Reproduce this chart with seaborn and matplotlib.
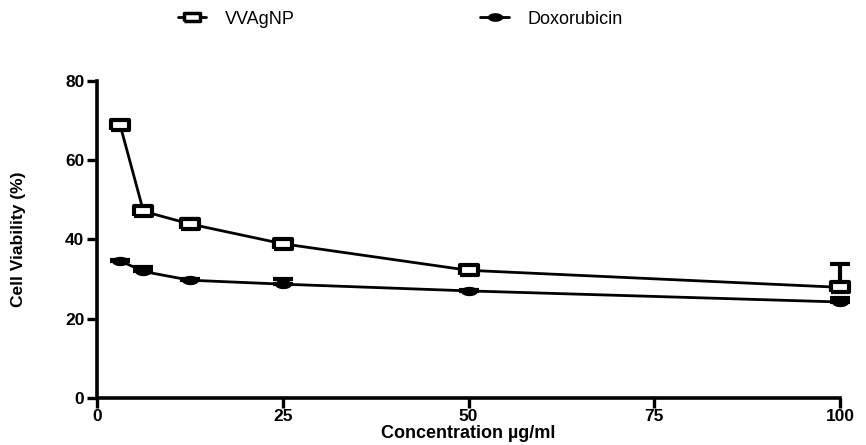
import numpy as np
import pandas as pd
import matplotlib
matplotlib.use("Agg")
import matplotlib.pyplot as plt
import seaborn as sns
from matplotlib.lines import Line2D

conc = [3.125, 6.25, 12.5, 25, 50, 100]
vvagnp = [68.8, 47.1, 43.9, 38.9, 32.2, 27.9]
vvagnp_err = [0.5, 0.6, 1.3, 0.6, 0.5, 6.0]
doxo = [34.6, 31.9, 29.7, 28.7, 27.0, 24.2]
doxo_err = [0.3, 1.1, 0.3, 1.2, 0.3, 1.0]
series_names = ["VVAgNP", "Doxorubicin"]
xticks = [0, 25, 50, 75, 100]
yticks = [0, 20, 40, 60, 80]

df = pd.DataFrame({
    "conc": conc * 2,
    "val": vvagnp + doxo,
    "series": [series_names[0]] * len(conc) + [series_names[1]] * len(conc),
})

sns.set_style("ticks")
plt.rcParams['font.family'] = ['Liberation Sans', 'DejaVu Sans']
plt.rcParams['text.color'] = 'black'
plt.rcParams['axes.labelcolor'] = 'black'
plt.rcParams['xtick.color'] = 'black'
plt.rcParams['ytick.color'] = 'black'

# wide rectangle and ellipse markers (the reference looks horizontally stretched)
rect = [(-1.0, -0.5), (1.0, -0.5), (1.0, 0.5), (-1.0, 0.5), (-1.0, -0.5)]
t = np.linspace(0, 2 * np.pi, 40)
ell = list(zip(np.cos(t), 0.52 * np.sin(t)))

fig = plt.figure(figsize=(8.66, 4.45), dpi=100)
ax = fig.add_axes([0.112, 0.106, 0.858, 0.712])

sns.lineplot(data=df, x="conc", y="val", hue="series", style="series",
             palette={series_names[0]: "black", series_names[1]: "black"},
             markers={series_names[0]: rect, series_names[1]: ell},
             dashes=False, linewidth=2.0, ax=ax, legend=False,
             markersize=13, markeredgewidth=3)

lines = ax.get_lines()
lines[0].set_markerfacecolor("white")
lines[0].set_markeredgecolor("black")
lines[1].set_markerfacecolor("black")
lines[1].set_markeredgecolor("black")
lines[1].set_markersize(11)
lines[1].set_markeredgewidth(1)
for ln in lines:
    ln.set_clip_on(False)
    ln.set_zorder(3)

for vals, errs in [(vvagnp, vvagnp_err), (doxo, doxo_err)]:
    eb = ax.errorbar(conc, vals, yerr=[np.zeros(len(conc)), errs], fmt="none",
                     ecolor="black", elinewidth=3, capsize=7, capthick=3, zorder=2)
    for c in eb.get_children():
        c.set_clip_on(False)

ax.set_xlim(0, 100)
ax.set_ylim(0, 80)
ax.set_xticks(xticks)
ax.set_yticks(yticks)
ax.tick_params(axis="both", direction="out", length=7, width=2.4, labelsize=12.5, pad=2)
ax.tick_params(axis="x", pad=1)
for lab in ax.get_xticklabels() + ax.get_yticklabels():
    lab.set_fontweight("bold")
for s in ["left", "bottom"]:
    ax.spines[s].set_linewidth(2.6)
    ax.spines[s].set_color("black")
sns.despine(ax=ax)

ax.set_xlabel("Concentration µg/ml", fontsize=13, fontweight="bold")
ax.set_ylabel("Cell Viability (%)", fontsize=12.5, fontweight="bold")
ax.yaxis.set_label_coords(-0.095, 0.5)
ax.xaxis.set_label_coords(0.5, -0.086)

handles = [
    Line2D([0], [0], color="black", lw=2, marker=rect, markersize=12,
           markerfacecolor="white", markeredgewidth=2.5),
    Line2D([0], [0], color="black", lw=2, marker=ell, markersize=10,
           markerfacecolor="black"),
]
fig.legend(handles, series_names, loc="center left", bbox_to_anchor=(0.205, 0.957),
           ncol=2, frameon=False, fontsize=13, columnspacing=10.3, handlelength=1.6,
           handletextpad=1.0, borderaxespad=0, borderpad=0)

fig.savefig("out.png", dpi=100)
